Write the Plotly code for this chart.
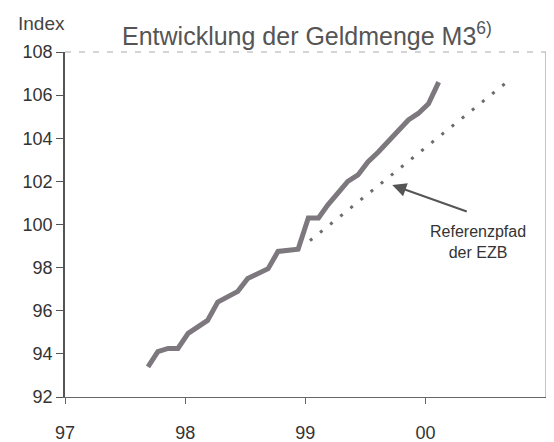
import plotly.graph_objects as go

# Monthly M3 index, Sep 1997 - Feb 2000
months = [
    "1997-09-10", "1997-10-10", "1997-11-10", "1997-12-10",
    "1998-01-10", "1998-02-10", "1998-03-10", "1998-04-10",
    "1998-05-10", "1998-06-10", "1998-07-10", "1998-08-10",
    "1998-09-10", "1998-10-10", "1998-11-10", "1998-12-10",
    "1999-01-10", "1999-02-10", "1999-03-10", "1999-04-10",
    "1999-05-10", "1999-06-10", "1999-07-10", "1999-08-10",
    "1999-09-10", "1999-10-10", "1999-11-10", "1999-12-10",
    "2000-01-10", "2000-02-10",
]
m3_index = [
    93.4, 94.1, 94.25, 94.25,
    94.95, 95.25, 95.55, 96.4,
    96.65, 96.9, 97.5, 97.75,
    97.95, 98.75, 98.8, 98.85,
    100.3, 100.3, 100.9, 101.5,
    102.0, 102.3, 102.9, 103.35,
    103.85, 104.35, 104.85, 105.15,
    105.6, 106.6,
]

# ECB reference path (straight dotted line)
ref_dates = ["1999-01-15", "2000-09-20"]
ref_index = [99.25, 106.8]

year_ticks = ["1997-01-01", "1998-01-01", "1999-01-01", "2000-01-01"]
year_labels = ["97", "98", "99", "00"]

font = "Liberation Sans, Arial, sans-serif"

fig = go.Figure()
fig.add_trace(go.Scatter(
    x=ref_dates, y=ref_index, mode="lines",
    line=dict(color="#6f6a72", width=3, dash="3px,10px"),
    hoverinfo="skip",
))
fig.add_trace(go.Scatter(
    x=months, y=m3_index, mode="lines",
    line=dict(color="#7d787d", width=5),
))

# page body has an 8px margin, so the plot box is offset accordingly
fig.update_layout(
    width=554, height=442,
    margin=dict(l=57, r=16, t=44, b=53, autoexpand=False),
    paper_bgcolor="white", plot_bgcolor="white",
    showlegend=False,
    font=dict(family=font, color="#333333"),
)
fig.update_xaxes(
    type="date", range=["1997-01-01", "2001-01-01"],
    tickvals=year_ticks, ticktext=year_labels,
    showgrid=False, zeroline=False, automargin=False,
    showline=True, linecolor="#666666", linewidth=1.2,
    ticks="outside", ticklen=6, tickcolor="#666666",
    ticklabelstandoff=13,
    tickfont=dict(size=18, color="#333333"),
)
fig.update_yaxes(
    range=[92, 108], dtick=2,
    showgrid=False, zeroline=False, automargin=False,
    showline=True, linecolor="#555555", linewidth=1.5,
    ticks="outside", ticklen=7, tickcolor="#555555",
    ticklabelstandoff=0,
    tickfont=dict(size=18, color="#333333"),
)

# right and top frame
fig.add_shape(type="line", xref="paper", yref="paper", x0=1, x1=1, y0=0, y1=1,
              line=dict(color="#888888", width=1))
fig.add_shape(type="line", xref="paper", yref="paper", x0=0, x1=1, y0=1, y1=1,
              line=dict(color="#aaaaaa", width=1, dash="6px,8px"))

fig.add_annotation(
    text="Entwicklung der Geldmenge M3<sup>6)</sup>",
    xref="paper", yref="paper", x=0.503, y=1.053,
    xanchor="center", yanchor="middle", showarrow=False,
    font=dict(size=25, color="#555555"),
)
fig.add_annotation(
    text="Index", xref="paper", yref="paper", x=-0.101, y=1.084,
    xanchor="left", yanchor="middle", showarrow=False,
    font=dict(size=19, color="#444444"),
)
fig.add_annotation(
    text="Referenzpfad<br>der EZB", xref="paper", yref="paper",
    x=0.859, y=0.45, xanchor="center", yanchor="middle", showarrow=False,
    font=dict(size=16, color="#333333"),
)
fig.add_annotation(
    text="", x="1999-09-22", y=101.83, ax=76, ay=27,
    showarrow=True, arrowhead=2, arrowsize=1.4, arrowwidth=2,
    arrowcolor="#555555",
)

fig.write_html("out.html")
